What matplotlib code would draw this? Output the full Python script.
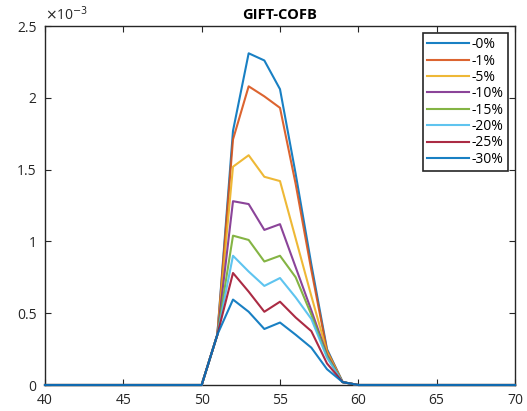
import numpy as np
import matplotlib
matplotlib.use("Agg")
import matplotlib.pyplot as plt
from matplotlib.ticker import FuncFormatter

plt.rcParams['font.family'] = ['Open Sans', 'DejaVu Sans']

# x positions (all integers 40..70), values are zero outside 50..60
x_all = list(range(40, 71))
x_peak = [50, 51, 52, 53, 54, 55, 56, 57, 58, 59, 60]

labels = ["-0%", "-1%", "-5%", "-10%", "-15%", "-20%", "-25%", "-30%"]

# values in units of 1e-3, read at x = 50..60
v_0 = [0, 0.35, 1.77, 2.31, 2.26, 2.06, 1.47, 0.84, 0.25, 0.02, 0]
v_1 = [0, 0.35, 1.71, 2.08, 2.01, 1.93, 1.40, 0.80, 0.24, 0.02, 0]
v_5 = [0, 0.35, 1.52, 1.60, 1.45, 1.42, 1.02, 0.62, 0.23, 0.02, 0]
v_10 = [0, 0.35, 1.28, 1.26, 1.08, 1.12, 0.82, 0.52, 0.21, 0.02, 0]
v_15 = [0, 0.35, 1.04, 1.01, 0.86, 0.90, 0.75, 0.49, 0.20, 0.02, 0]
v_20 = [0, 0.35, 0.90, 0.79, 0.69, 0.745, 0.61, 0.46, 0.19, 0.02, 0]
v_25 = [0, 0.35, 0.78, 0.65, 0.51, 0.58, 0.47, 0.375, 0.15, 0.02, 0]
v_30 = [0, 0.35, 0.595, 0.51, 0.39, 0.435, 0.35, 0.26, 0.11, 0.02, 0]

series = [v_0, v_1, v_5, v_10, v_15, v_20, v_25, v_30]
colors = ["#0072BD", "#D95319", "#EDB120", "#7E2F8E",
          "#77AC30", "#4DBEEE", "#A2142F", "#0072BD"]


def full_series(vals):
    # put the peak values in place, the rest of the range stays at 0
    y = np.zeros(len(x_all))
    start = x_all.index(x_peak[0])
    y[start:start + len(vals)] = vals
    return y * 1e-3


fig = plt.figure(figsize=(5.27, 4.11), dpi=100)
ax = fig.add_axes([45 / 527, 1 - 385 / 411, 470 / 527, 359 / 411])

for vals, lab, c in zip(series, labels, colors):
    ax.plot(x_all, full_series(vals), color=c, lw=1.5, label=lab,
            clip_on=False, zorder=3, alpha=0.9)

ax.set_xlim(40, 70)
ax.set_ylim(0, 2.5e-3)
ax.set_xticks([40, 45, 50, 55, 60, 65, 70])
ax.set_yticks([0, 0.5e-3, 1e-3, 1.5e-3, 2e-3, 2.5e-3])
ax.yaxis.set_major_formatter(FuncFormatter(lambda v, p: "%g" % round(v * 1e3, 3)))
ax.text(0.0, 1.005, r"$\times$10$^{-3}$", transform=ax.transAxes,
        fontsize=10, ha="left", va="bottom", color="#262626")

ax.tick_params(direction="in", top=True, right=True, length=4, width=0.8,
               labelsize=10, colors="#262626")
ax.tick_params(axis="x", pad=6)
ax.tick_params(axis="y", pad=6)
for s in ax.spines.values():
    s.set_linewidth(1.0)
    s.set_color("#262626")

ax.set_title("GIFT-COFB", fontsize=10.5, fontweight="bold", pad=5)

leg = ax.legend(loc="upper right", fontsize=10, frameon=True, fancybox=False,
                edgecolor="#262626", framealpha=1, handlelength=3.0,
                borderaxespad=0.5, labelspacing=0.1, handletextpad=0.2,
                borderpad=0.3)
leg.get_frame().set_linewidth(1.2)

fig.savefig("out.png", dpi=100)
